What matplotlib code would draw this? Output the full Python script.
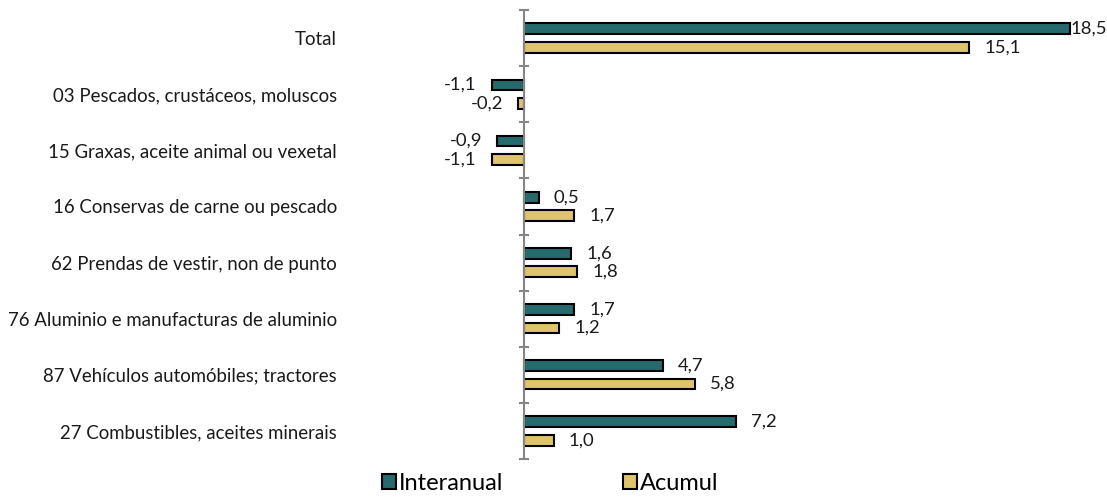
import matplotlib
matplotlib.use('Agg')
import matplotlib.pyplot as plt
from matplotlib.patches import Patch
import numpy as np

plt.rcParams['font.family'] = ['Lato', 'DejaVu Sans']

categories = ['Total',
              '03 Pescados, crustáceos, moluscos',
              '15 Graxas, aceite animal ou vexetal',
              '16 Conservas de carne ou pescado',
              '62 Prendas de vestir, non de punto',
              '76 Aluminio e manufacturas de aluminio',
              '87 Vehículos automóbiles; tractores',
              '27 Combustibles, aceites minerais']
interanual = [18.5, -1.1, -0.9, 0.5, 1.6, 1.7, 4.7, 7.2]
acumul = [15.1, -0.2, -1.1, 1.7, 1.8, 1.2, 5.8, 1.0]
series_names = ['Interanual', 'Acumul']

col_int = '#276a6e'
col_acu = '#e0c46c'

W, H = 1107, 497
fig = plt.figure(figsize=(W / 100, H / 100), dpi=100)

# axis geometry in pixels (zero line at x=524, ~29.5 px per unit)
x0, scale = 524, 29.5
xmin = -2.0
xmax = (W - x0) / scale
left_px = x0 + xmin * scale
ax = fig.add_axes([left_px / W, 1 - 459 / H, (W - left_px) / W, (459 - 10) / H])

y = np.arange(len(categories))
h = 0.19
off = 0.165
ax.barh(y - off, interanual, height=h, color=col_int, edgecolor='black', linewidth=1.5)
ax.barh(y + off, acumul, height=h, color=col_acu, edgecolor='black', linewidth=1.5)

ax.set_xlim(xmin, xmax)
ax.set_ylim(len(categories) - 0.5, -0.5)

# value labels
pad = 15 / scale
lab_w = 1.3
fs = 13.3
for vals, dy in [(interanual, -off), (acumul, off)]:
    for yi, v in zip(y, vals):
        txt = f'{v:.1f}'.replace('.', ',')
        if v >= 0:
            if v + pad + lab_w > xmax:
                ax.text(xmax, yi + dy, txt, ha='right', va='center', fontsize=fs, color='#1a1a1a')
            else:
                ax.text(v + pad, yi + dy, txt, ha='left', va='center', fontsize=fs, color='#1a1a1a')
        else:
            ax.text(v - pad, yi + dy, txt, ha='right', va='center', fontsize=fs, color='#1a1a1a')

for s in ['top', 'right', 'bottom']:
    ax.spines[s].set_visible(False)
ax.spines['left'].set_position(('data', 0))
ax.spines['left'].set_color('#868686')
ax.spines['left'].set_linewidth(1.5)
ax.set_xticks([])

ax.set_yticks(y)
ax.set_yticklabels(categories, fontsize=13.4, color='#1a1a1a')
ax.tick_params(axis='y', which='major', length=0, pad=(x0 - 337) * 0.72)
ax.set_yticks(np.arange(-0.5, len(categories)), minor=True)
ax.tick_params(axis='y', which='minor', length=7, direction='inout', color='#868686', width=1.5)

handles = [Patch(facecolor=col_int, edgecolor='black', linewidth=1.5),
           Patch(facecolor=col_acu, edgecolor='black', linewidth=1.5)]
fig.legend(handles, series_names, loc='center', bbox_to_anchor=(0.497, 1 - 483 / H), ncol=2,
           frameon=False, fontsize=17, handlelength=0.58, handleheight=0.58,
           handletextpad=0.12, columnspacing=5.1, borderaxespad=0)

fig.savefig('out.png', dpi=100)
